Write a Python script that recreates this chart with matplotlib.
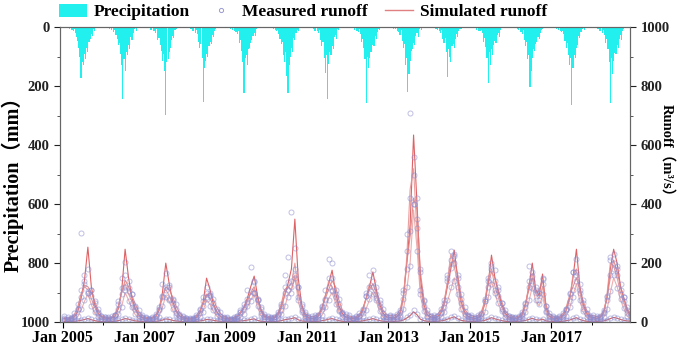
import numpy as np
import pandas as pd
import matplotlib
matplotlib.use('Agg')
import matplotlib.pyplot as plt
import matplotlib.dates as mdates
from matplotlib.patches import Patch
from matplotlib.lines import Line2D

plt.rcParams['font.family'] = ['Liberation Serif', 'Noto Sans CJK SC']
plt.rcParams['font.weight'] = 'bold'

years = list(range(2005, 2019))

# dekadal precipitation (mm), 36 values per year
precip = [
    [1,3,0, 2,5,1, 6,2,9, 14,7,20, 35,48,70, 100,173,120, 130,90,110, 70,85,50, 40,25,30, 8,12,3, 3,1,4, 0,2,1],
    [2,0,4, 3,1,6, 5,10,3, 18,9,26, 40,62,55, 90,130,245, 110,150,85, 95,60,75, 35,45,20, 8,4,12, 2,5,1, 3,0,2],
    [0,2,1, 4,2,7, 9,4,13, 12,22,8, 45,38,60, 80,115,90, 150,298,120, 110,85,70, 45,30,38, 10,6,3, 4,2,1, 1,3,0],
    [3,1,2, 5,3,8, 7,12,5, 20,10,25, 50,70,58, 105,253,140, 115,90,100, 65,50,58, 28,35,15, 7,3,5, 2,4,1, 0,1,2],
    [1,0,3, 2,6,4, 10,5,14, 16,25,12, 55,45,80, 120,225,105, 95,130,75, 70,55,45, 30,22,30, 8,5,3, 4,1,2, 2,0,1],
    [2,1,0, 4,2,5, 8,3,11, 15,9,24, 40,58,50, 95,120,85, 165,225,130, 100,70,85, 38,45,22, 9,12,4, 3,2,1, 1,2,0],
    [0,3,1, 3,1,5, 6,12,4, 14,22,10, 45,65,52, 105,155,95, 245,125,85, 95,65,75, 35,28,40, 8,10,3, 2,4,1, 1,0,2],
    [2,1,3, 5,2,4, 9,4,12, 18,8,24, 50,40,70, 110,259,100, 140,105,85, 85,60,65, 30,40,18, 6,9,2, 3,1,2, 0,2,1],
    [1,2,0, 3,6,2, 8,5,13, 17,26,10, 48,70,58, 130,105,220, 160,115,80, 75,55,62, 30,22,35, 7,4,10, 2,3,1, 1,0,2],
    [2,0,1, 4,2,6, 7,11,3, 12,20,9, 42,55,38, 85,169,75, 100,120,65, 58,72,42, 25,35,15, 6,8,3, 2,1,3, 0,2,1],
    [1,3,0, 2,5,3, 9,4,12, 15,10,22, 50,38,68, 105,190,85, 130,75,95, 62,48,55, 28,20,35, 9,5,3, 3,2,1, 2,0,1],
    [0,2,1, 3,1,5, 6,10,4, 16,24,11, 45,65,52, 110,95,203, 150,105,75, 82,58,50, 35,40,22, 10,6,3, 2,4,1, 1,2,0],
    [2,1,3, 4,6,2, 10,5,14, 18,12,25, 48,70,55, 95,130,105, 264,140,95, 105,72,62, 30,38,18, 8,4,10, 3,1,2, 0,1,2],
    [1,0,2, 3,2,6, 8,12,4, 20,9,28, 55,42,76, 120,258,105, 160,115,88, 92,62,72, 40,28,45, 12,7,4, 3,2,1, 2,0,1],
]

# monthly simulated runoff (m3/s), one row per year
sim1 = [
    [12,10,12,18,35,80,140,254,120,60,30,18],
    [14,12,14,20,45,110,247,150,80,45,25,16],
    [12,11,13,18,40,100,200,130,70,40,22,15],
    [12,10,12,16,30,70,149,110,60,35,20,14],
    [12,10,12,18,30,50,80,120,156,90,40,20],
    [15,12,15,25,50,90,130,180,349,150,60,25],
    [15,12,14,22,45,90,130,176,100,55,30,18],
    [14,12,14,20,40,80,120,170,110,60,30,18],
    [16,14,18,30,80,200,330,634,400,150,60,25],
    [18,15,18,30,60,120,180,244,150,70,35,20],
    [15,12,15,25,60,130,227,150,100,60,30,18],
    [14,12,15,25,60,120,200,110,90,163,50,20],
    [14,12,14,22,40,80,150,247,120,60,30,18],
    [15,13,16,30,80,180,247,200,120,80,40,20],
]
sim2 = [
    [15,14,16,25,50,95,125,120,100,70,40,22],
    [18,15,18,28,55,100,142,120,90,60,35,22],
    [16,14,16,24,45,80,120,110,85,55,32,20],
    [15,13,15,22,40,60,90,100,75,50,30,20],
    [15,13,15,22,35,50,70,100,120,80,45,25],
    [20,16,20,30,60,110,120,110,150,95,55,30],
    [22,18,20,28,50,80,110,140,120,75,40,25],
    [20,16,18,26,45,80,110,130,100,70,40,25],
    [22,20,25,40,90,200,290,420,380,170,80,35],
    [25,20,25,40,70,130,200,210,160,90,45,28],
    [22,18,22,35,70,130,170,150,110,70,38,24],
    [20,16,20,32,65,110,150,100,110,140,60,28],
    [20,16,18,28,50,90,120,150,110,70,40,22],
    [22,18,22,35,80,150,210,170,120,80,45,25],
]
sim3 = [
    [6,5,6,9,18,40,70,95,60,30,15,9],
    [7,6,7,10,22,55,100,75,45,25,12,8],
    [6,5,6,9,20,50,90,70,40,22,12,8],
    [6,5,6,8,16,40,75,60,35,20,11,7],
    [6,5,6,9,15,30,50,75,95,50,22,10],
    [8,6,8,12,25,50,90,110,160,70,30,12],
    [8,6,7,11,22,45,80,100,65,35,16,9],
    [7,6,7,10,20,45,75,100,70,35,16,9],
    [8,7,9,15,40,110,200,380,250,90,35,14],
    [9,7,9,15,30,70,110,150,90,40,18,10],
    [8,6,8,12,30,80,140,95,60,35,16,9],
    [7,6,8,12,30,70,120,70,55,90,30,11],
    [7,6,7,11,20,45,90,130,70,35,16,9],
    [8,7,8,15,40,100,150,120,75,45,20,10],
]
sim4 = [
    [2,2,2,3,4,6,9,12,8,5,3,2],
    [2,2,2,3,5,8,12,10,7,4,3,2],
    [2,2,2,3,4,7,11,9,6,4,3,2],
    [2,1,2,3,4,6,9,8,6,4,3,2],
    [2,2,2,3,4,5,7,9,11,6,3,2],
    [2,2,2,3,5,8,10,12,15,8,4,3],
    [3,2,2,3,5,7,10,12,8,5,3,2],
    [2,2,2,3,4,7,9,12,8,5,3,2],
    [3,2,3,4,7,14,22,35,25,10,5,3],
    [3,2,3,4,6,10,14,18,11,6,4,3],
    [2,2,3,4,6,10,15,11,8,5,3,2],
    [2,2,3,4,6,9,13,8,7,10,4,3],
    [2,2,2,3,5,7,11,15,9,5,3,2],
    [3,2,3,4,7,12,16,13,9,6,4,3],
]
sim5 = [
    [10,9,11,18,40,90,120,110,80,50,28,15],
    [12,10,12,20,50,105,130,95,70,40,22,14],
    [11,10,12,18,45,95,110,90,60,35,20,13],
    [10,9,11,16,35,65,95,80,55,32,18,12],
    [10,9,11,17,30,45,75,95,110,70,35,16],
    [13,11,13,22,45,90,120,130,200,110,45,20],
    [13,11,12,20,40,85,140,120,80,45,25,15],
    [12,10,12,18,35,80,130,110,90,50,25,15],
    [14,12,16,28,75,220,450,520,300,120,50,22],
    [16,13,16,28,55,140,230,190,130,60,30,18],
    [14,11,14,22,65,150,180,120,85,50,25,15],
    [13,11,14,22,55,130,165,95,80,120,40,18],
    [12,10,12,20,38,75,160,180,100,50,26,15],
    [14,12,15,28,90,200,190,150,100,65,32,18],
]

# monthly measured runoff (m3/s)
meas1 = [
    [15,12,10,22,60,302,160,180,110,70,35,20],
    [18,14,12,25,70,150,203,140,95,50,28,18],
    [14,12,15,20,45,130,165,120,75,45,25,16],
    [15,11,14,19,40,85,120,100,65,38,22,15],
    [14,12,14,20,35,60,110,187,140,80,45,22],
    [18,14,17,28,60,160,220,373,250,120,55,28],
    [17,14,16,25,50,110,213,200,95,60,32,20],
    [16,13,16,22,45,100,160,175,120,65,32,19],
    [20,16,22,40,110,300,708,560,420,170,70,30],
    [22,18,21,35,75,160,240,230,160,80,38,22],
    [17,14,17,28,70,150,200,175,110,65,32,20],
    [16,13,17,28,65,190,170,120,100,145,55,22],
    [16,14,16,25,45,95,170,215,130,65,32,19],
    [18,15,18,35,90,220,230,190,130,85,42,22],
]
meas2 = [
    [20,16,15,30,45,110,140,105,110,65,45,20],
    [16,18,22,25,60,95,160,115,95,55,40,25],
    [18,12,18,28,40,90,110,125,80,60,28,22],
    [14,15,12,25,45,55,100,92,80,45,35,18],
    [18,11,17,20,40,45,80,90,135,75,50,28],
    [22,18,18,35,55,120,135,100,160,85,60,35],
    [20,20,24,25,55,75,120,150,110,80,35,28],
    [24,14,20,30,40,90,100,140,95,75,45,22],
    [25,22,28,35,100,180,310,400,350,180,75,40],
    [22,24,22,45,65,140,185,225,150,95,50,25],
    [25,16,25,30,80,120,180,140,120,65,42,22],
    [18,18,22,35,60,120,140,110,100,150,55,30],
    [22,14,20,30,45,100,110,160,100,75,45,20],
    [25,20,20,40,75,160,200,180,110,85,50,28],
]
meas3 = [
    [8,6,7,11,22,45,75,100,55,35,18,10],
    [9,7,8,12,28,50,110,70,50,28,14,9],
    [7,6,8,10,18,55,85,75,45,25,14,9],
    [7,6,5,9,18,35,80,55,40,22,12,8],
    [7,6,7,10,17,28,55,70,100,55,25,12],
    [9,7,9,14,28,55,85,120,150,75,35,14],
    [9,8,8,12,25,50,75,105,60,38,18,10],
    [8,7,8,11,22,40,80,95,75,38,18,10],
    [10,8,10,18,45,120,190,400,240,95,38,16],
    [10,8,10,17,33,75,120,140,95,45,20,12],
    [9,7,9,14,33,85,130,100,65,38,18,10],
    [8,7,9,14,33,75,115,75,60,95,33,12],
    [8,7,8,12,22,50,85,140,75,38,18,10],
    [9,8,9,17,45,105,160,115,80,48,22,12],
]
meas4 = [
    [3,2,3,4,5,7,10,14,9,6,4,3],
    [3,3,2,4,6,9,14,11,8,5,4,3],
    [2,3,3,4,5,8,12,10,7,5,3,3],
    [3,2,2,4,5,7,10,9,7,5,4,2],
    [3,2,3,4,5,6,8,10,13,7,4,3],
    [3,3,3,4,6,9,12,14,17,9,5,3],
    [4,3,3,4,6,8,11,14,9,6,4,3],
    [3,2,3,4,5,8,10,14,9,6,4,3],
    [4,3,4,5,8,16,25,40,28,12,6,4],
    [4,3,4,5,7,12,16,20,13,7,5,4],
    [3,3,4,5,7,12,17,13,9,6,4,3],
    [3,3,4,5,7,10,15,9,8,12,5,4],
    [3,2,3,4,6,8,13,17,10,6,4,3],
    [4,3,4,5,8,14,18,15,10,7,5,4],
]
meas5 = [
    [12,8,13,16,45,85,130,100,90,45,30,14],
    [10,12,11,24,45,115,120,105,65,45,20,16],
    [13,9,10,20,50,85,120,80,65,30,22,12],
    [9,11,10,18,30,70,85,90,50,35,16,13],
    [12,8,12,15,34,50,68,105,100,75,30,18],
    [11,13,12,25,40,100,110,140,180,120,40,22],
    [15,10,14,18,45,78,150,110,85,40,28,13],
    [10,12,11,20,32,88,120,120,82,55,22,16],
    [16,10,18,25,80,240,420,500,320,110,55,20],
    [14,15,14,30,50,150,210,200,120,65,28,20],
    [16,10,15,20,70,140,190,110,90,45,28,13],
    [11,13,12,25,50,140,155,100,75,130,38,20],
    [14,9,13,18,42,70,170,170,110,45,28,14],
    [12,14,13,30,85,210,180,160,95,70,30,20],
]

months = pd.date_range('2005-01-01', '2018-12-01', freq='MS') + pd.Timedelta(days=14)
dekads = [pd.Timestamp(y, m, d) for y in years for m in range(1, 13) for d in (5, 15, 25)]

fig = plt.figure(figsize=(6.85, 3.46), dpi=100)
ax1 = fig.add_axes([0.0876, 0.069, 0.832, 0.853])
ax1.bar(dekads, np.ravel(precip), width=10.5, color='#22f0ee', linewidth=0)
ax1.set_ylim(1000, 0)
ax1.set_xlim(pd.Timestamp('2004-12-08'), pd.Timestamp('2018-12-08'))

ax2 = ax1.twinx()
sim_colors = ['#d9474a', '#e27c7c', '#eaa0a0', '#c94545', '#e69090']
for sim, c in zip([sim1, sim2, sim3, sim4, sim5], sim_colors):
    ax2.plot(months, np.ravel(sim), color=c, lw=0.8, alpha=0.85)
for meas in [meas1, meas2, meas3, meas4, meas5]:
    ax2.plot(months, np.ravel(meas), 'o', mfc='none', mec='#8c8cd0', ms=3.6, mew=0.7, alpha=0.55)
ax2.set_ylim(0, 1000)

for ax in (ax1, ax2):
    ax.yaxis.set_major_locator(plt.MultipleLocator(200))
    ax.yaxis.set_minor_locator(plt.MultipleLocator(100))
    ax.tick_params(axis='y', which='major', length=4, width=0.8, labelsize=10.5, colors='#222222')
    ax.tick_params(axis='y', which='minor', length=2.5, width=0.7, colors='#555555')
    for s in ax.spines.values():
        s.set_color('#666666')
        s.set_linewidth(0.8)

ax1.set_xticks([pd.Timestamp(y, 1, 1) for y in years[::2]])
ax1.xaxis.set_minor_locator(mdates.YearLocator(1))
ax1.xaxis.set_major_formatter(mdates.DateFormatter('%b %Y'))
ax1.tick_params(axis='x', which='major', length=4, width=0.8, labelsize=11.5, pad=2)
ax1.tick_params(axis='x', which='minor', length=2.5, width=0.7)

ax1.set_ylabel('Precipitation（mm）', fontsize=14.5, fontweight='bold')
ax1.yaxis.set_label_coords(-0.064, 0.485)
ax2.set_ylabel('Runoff（m³/s）', fontsize=10.5, fontweight='bold', rotation=270)
ax2.yaxis.set_label_coords(1.078, 0.57)

handles = [
    Patch(facecolor='#22f0ee', edgecolor='none'),
    Line2D([], [], ls='none', marker='o', mfc='none', mec='#9a9ad0', ms=3, mew=0.7),
    Line2D([], [], color='#e08080', lw=1),
]
fig.legend(handles, ['Precipitation', 'Measured runoff', 'Simulated runoff'],
           loc='center left', bbox_to_anchor=(0.086, 0.965), ncol=3, frameon=False,
           fontsize=12.5, handlelength=1.6, handleheight=0.8, handletextpad=0.4,
           columnspacing=1.0, borderpad=0, borderaxespad=0)

fig.savefig('out.png', dpi=100)
